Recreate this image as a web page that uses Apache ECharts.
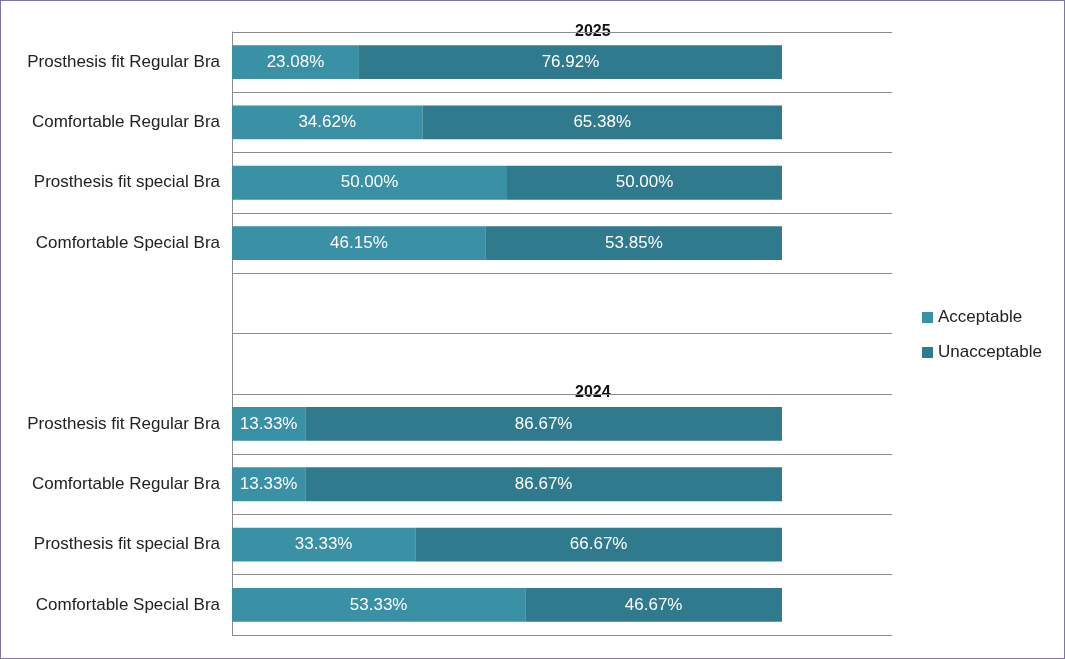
<!DOCTYPE html>
<html>
<head>
<meta charset="utf-8">
<script src="https://cdn.jsdelivr.net/npm/echarts@6/dist/echarts.min.js"></script>
<style>
html,body{margin:0;padding:0;background:#fff;}
#chart{width:1065px;height:659px;box-sizing:border-box;border:1px solid #7f74a8;}
</style>
</head>
<body>
<div id="chart"></div>
<script>
const categories = [
  'Prosthesis fit Regular Bra', 'Comfortable Regular Bra', 'Prosthesis fit special Bra', 'Comfortable Special Bra',
  '', '',
  'Prosthesis fit Regular Bra', 'Comfortable Regular Bra', 'Prosthesis fit special Bra', 'Comfortable Special Bra'
];
const acceptable = [23.08, 34.62, 50.00, 46.15, null, null, 13.33, 13.33, 33.33, 53.33];
const unacceptable = [76.92, 65.38, 50.00, 53.85, null, null, 86.67, 86.67, 66.67, 46.67];
const groupTitles = ['2025', '2024'];

const chart = echarts.init(document.getElementById('chart'));
const labelOpt = {
  show: true, position: 'inside', color: '#ffffff', fontSize: 17,
  fontFamily: 'Liberation Sans, Arial, sans-serif',
  formatter: p => p.value == null ? '' : p.value.toFixed(2) + '%'
};
chart.setOption({
  animation: false,
  grid: { left: 231, right: 172, top: 31, bottom: 23, containLabel: false },
  legend: {
    orient: 'vertical', left: 916, top: 303, itemWidth: 11, itemHeight: 11, itemGap: 18,
    icon: 'rect',
    textStyle: { fontSize: 17, color: '#222', fontFamily: 'Liberation Sans, Arial, sans-serif' },
    data: ['Acceptable', 'Unacceptable']
  },
  xAxis: {
    type: 'value', min: 0, max: 120,
    axisLabel: { show: false }, axisLine: { show: false }, axisTick: { show: false }, splitLine: { show: false }
  },
  yAxis: {
    type: 'category', inverse: true, data: categories,
    axisLine: { show: true, lineStyle: { color: '#8c8c8c', width: 1 } },
    axisTick: { show: false },
    splitLine: { show: true, lineStyle: { color: '#8c8c8c', width: 1 } },
    axisLabel: { fontSize: 17, color: '#222', margin: 12, fontFamily: 'Liberation Sans, Arial, sans-serif' }
  },
  graphic: [
    { type: 'text', left: 574, top: 23, style: { text: groupTitles[0], font: 'bold 16px Liberation Sans, Arial, sans-serif', fill: '#111' } },
    { type: 'text', left: 574, top: 384, style: { text: groupTitles[1], font: 'bold 16px Liberation Sans, Arial, sans-serif', fill: '#111' } }
  ],
  series: [
    { name: 'Acceptable', type: 'bar', stack: 'total', barWidth: '56%', data: acceptable,
      itemStyle: { color: '#3a90a4' }, label: labelOpt },
    { name: 'Unacceptable', type: 'bar', stack: 'total', barWidth: '56%', data: unacceptable,
      itemStyle: { color: '#2f7a8c' }, label: labelOpt }
  ]
});
</script>
</body>
</html>
